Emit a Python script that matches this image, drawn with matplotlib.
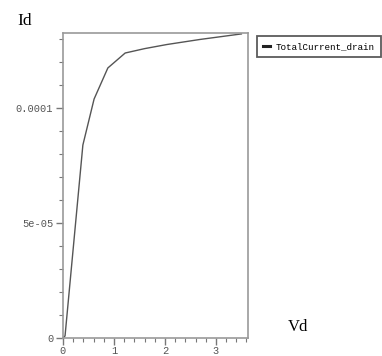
import matplotlib
matplotlib.use("Agg")
import matplotlib.pyplot as plt
from matplotlib.ticker import MultipleLocator, FixedLocator

vd = [0.0, 0.04, 0.39, 0.61, 0.88, 1.22, 1.6, 2.04, 2.69, 3.5]
id_drain = [0.0, 0.09e-5, 8.39e-5, 10.39e-5, 11.74e-5, 12.39e-5, 12.58e-5, 12.76e-5, 12.98e-5, 13.22e-5]
series_name = "TotalCurrent_drain"
xticks = [0, 1, 2, 3]
xticklabels = ["0", "1", "2", "3"]
yticks = [0, 5e-05, 0.0001]
yticklabels = ["0", "5e-05", "0.0001"]

W, H = 382, 356
fig = plt.figure(figsize=(W / 100, H / 100), dpi=100)
ax = fig.add_axes([63 / W, 1 - 338 / H, (248 - 63) / W, (338 - 33) / H])

line, = ax.plot(vd, id_drain, color="#555555", lw=1.0, label=series_name)
ax.set_xlim(0, 3.63)
ax.set_ylim(0, 1.326e-4)

ax.xaxis.set_major_locator(FixedLocator(xticks))
ax.set_xticklabels(xticklabels)
ax.xaxis.set_minor_locator(MultipleLocator(0.2))
ax.yaxis.set_major_locator(FixedLocator(yticks))
ax.set_yticklabels(yticklabels)
ax.yaxis.set_minor_locator(MultipleLocator(1e-5))

for s in ax.spines.values():
    s.set_color("#999999")
    s.set_linewidth(1.2)
ax.tick_params(which="major", direction="out", length=5, width=1, color="#777777",
               labelsize=7.5, labelcolor="#555555", pad=2)
ax.tick_params(axis="x", which="major", pad=1)
ax.tick_params(which="minor", direction="out", length=3, width=0.8, color="#777777")
for lab in ax.get_xticklabels() + ax.get_yticklabels():
    lab.set_family("Liberation Mono")

fig.text(17 / W, 1 - 21 / H, "Id", family="Liberation Serif", fontsize=12.5, va="center", ha="left")
fig.text(288 / W, 1 - 327 / H, "Vd", family="Liberation Serif", fontsize=12, va="center", ha="left")

leg = ax.legend(handles=[line], loc="upper left", bbox_to_anchor=(257 / W, 1 - 36 / H),
                bbox_transform=fig.transFigure, frameon=True, fancybox=False,
                edgecolor="#333333", handlelength=0.8, handletextpad=0.6,
                borderpad=0.65, borderaxespad=0,
                prop={"family": "Liberation Mono", "size": 6.7})
leg.get_frame().set_linewidth(1.3)
leg.get_lines()[0].set_linewidth(2.2)
leg.get_lines()[0].set_color("#222222")

fig.savefig("out.png", dpi=100)
